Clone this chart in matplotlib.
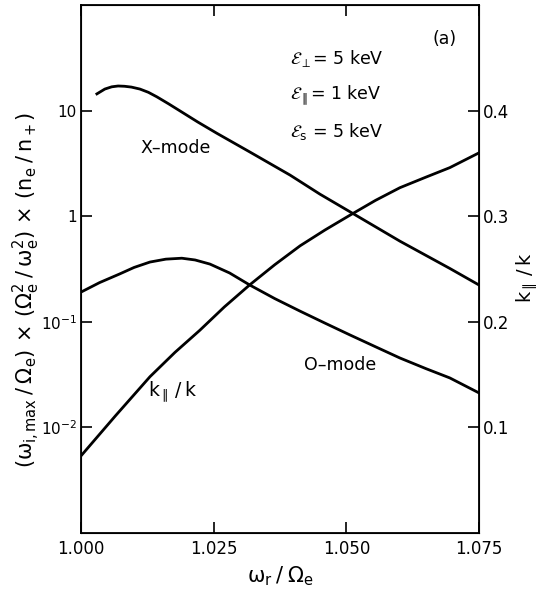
import numpy as np
import matplotlib
matplotlib.use("Agg")
from matplotlib import pyplot as plt
from matplotlib.ticker import FixedLocator, FixedFormatter, NullLocator

plt.rcParams['font.family'] = ['DejaVu Sans']
plt.rcParams['mathtext.fontset'] = 'stixsans'
plt.rcParams['mathtext.default'] = 'regular'

# X-mode growth rate (left, log axis)
w_x = [1.0030, 1.0045, 1.0058, 1.0070, 1.0082, 1.0095, 1.0111, 1.0127, 1.0143,
       1.0165, 1.0187, 1.0220, 1.0256, 1.0318, 1.0394, 1.0450, 1.0507, 1.0601,
       1.0695, 1.0750]
g_x = [14.4, 16.0, 16.8, 17.1, 17.0, 16.7, 16.0, 14.9, 13.5,
       11.6, 9.9, 7.8, 6.1, 4.06, 2.45, 1.62, 1.10, 0.58,
       0.32, 0.223]

# O-mode growth rate (left, log axis)
w_o = [1.000, 1.0035, 1.0073, 1.0100, 1.0130, 1.0160, 1.0190, 1.0215, 1.0243,
       1.0280, 1.0318, 1.0365, 1.0413, 1.0460, 1.0507, 1.0555, 1.0601, 1.0650,
       1.0695, 1.0750]
g_o = [0.191, 0.235, 0.284, 0.327, 0.368, 0.392, 0.400, 0.385, 0.352,
       0.290, 0.223, 0.166, 0.126, 0.097, 0.075, 0.058, 0.0454, 0.036,
       0.0294, 0.0212]

# k_par / k (right, linear axis)
w_k = [1.000, 1.0065, 1.013, 1.0177, 1.0224, 1.0270, 1.0318, 1.0365, 1.0413,
       1.0460, 1.0507, 1.0555, 1.0601, 1.0650, 1.0695, 1.0750]
k_r = [0.073, 0.111, 0.148, 0.171, 0.192, 0.214, 0.235, 0.254, 0.272,
       0.287, 0.301, 0.315, 0.327, 0.337, 0.346, 0.360]

xt = [1.000, 1.025, 1.050, 1.075]
xt_lab = ['1.000', '1.025', '1.050', '1.075']
yt = [1e-2, 1e-1, 1, 10]
yt_lab = [r'$10^{-2}$', r'$10^{-1}$', '1', '10']
kt = [0.1, 0.2, 0.3, 0.4]
kt_lab = ['0.1', '0.2', '0.3', '0.4']

fig = plt.figure(figsize=(5.42, 5.89), dpi=100)
ax = fig.add_axes([0.1494, 0.0951, 0.7344, 0.8964])
ax.plot(w_x, g_x, color='black', lw=2.0)
ax.plot(w_o, g_o, color='black', lw=2.0)
ax.set_yscale('log')
ax.set_xlim(1.000, 1.075)
ax.set_ylim(1e-3, 1e2)
ax.yaxis.set_major_locator(FixedLocator(yt))
ax.yaxis.set_major_formatter(FixedFormatter(yt_lab))
ax.yaxis.set_minor_locator(NullLocator())
ax.set_xticks(xt)
ax.set_xticklabels(xt_lab)
ax.tick_params(direction='in', length=8, width=1.2, labelsize=12, top=True, pad=5)
ax.tick_params(axis='y', labelsize=11, pad=3)
for s in ax.spines.values():
    s.set_linewidth(1.3)

ax2 = ax.twinx()
ax2.plot(w_k, k_r, color='black', lw=2.0)
ax2.set_ylim(0.0, 0.5)
ax2.set_yticks(kt)
ax2.set_yticklabels(kt_lab)
ax2.tick_params(direction='in', length=8, width=1.2, labelsize=12, pad=3)

ax.set_xlabel(r'$\omega_r\;/\;\Omega_e$', fontsize=15, labelpad=5)
ax.set_ylabel(r'$(\omega_{i,max}\;/\;\Omega_e)\;\times\;(\Omega_e^2\;/\;\omega_e^2)\;\times\;(n_e\;/\;n_+)$',
              fontsize=15)
ax.yaxis.set_label_coords(-0.097, 0.46)
ax2.set_ylabel(r'$k_{\parallel}\;/\;k$', fontsize=14)
ax2.yaxis.set_label_coords(1.09, 0.483)

ax.text(1.0178, 4.4, 'X\u2013mode', fontsize=12.5, ha='center', va='center')
ax.text(1.0488, 0.039, 'O\u2013mode', fontsize=12.5, ha='center', va='center')
ax.text(1.0173, 0.0216, r'$k_{\parallel}\;/\;k$', fontsize=13.5, ha='center', va='center')
ax.text(0.913, 0.935, '(a)', fontsize=12.5, ha='center', va='center', transform=ax.transAxes)

ax.text(0.525, 0.8996, r'$\mathcal{E}_{\perp}$= 5 keV', fontsize=12.5, ha='left', va='center', transform=ax.transAxes)
ax.text(0.525, 0.8295, r'$\mathcal{E}_{\parallel}$= 1 keV', fontsize=12.5, ha='left', va='center', transform=ax.transAxes)
ax.text(0.525, 0.7595, r'$\mathcal{E}_{s}$ = 5 keV', fontsize=12.5, ha='left', va='center', transform=ax.transAxes)

fig.savefig('out.png', dpi=100)
